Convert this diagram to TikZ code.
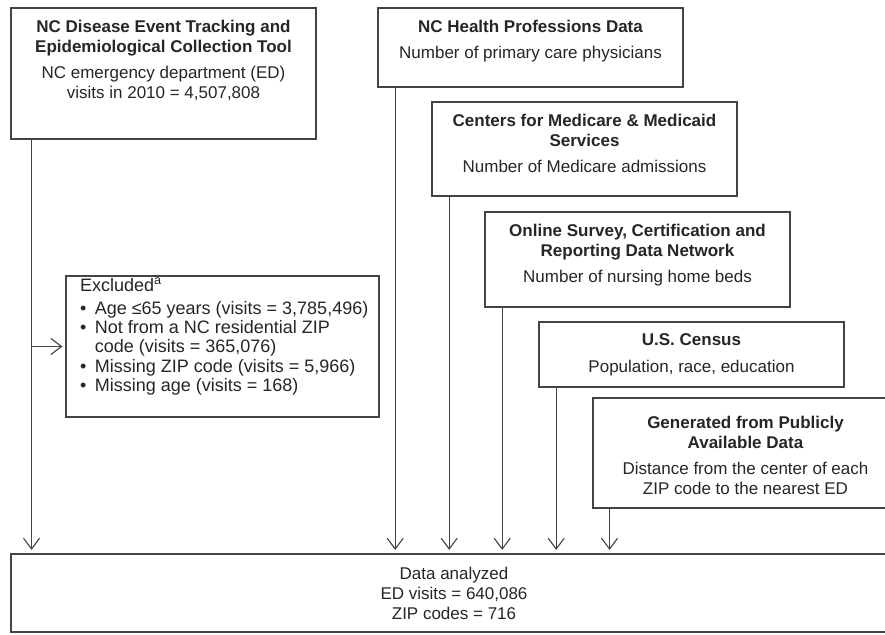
\documentclass[tikz,border=0pt]{standalone}
\usepackage{fontspec}
\setmainfont{Liberation Sans}
\usetikzlibrary{arrows.meta,fit}
\definecolor{ink}{HTML}{262626}
\definecolor{edge}{HTML}{444444}
\begin{document}
\begin{tikzpicture}[x=0.75pt,y=-0.75pt,
  box/.style={draw=edge,line width=1.2pt,inner sep=0pt,fill=none},
  txt/.style={inner sep=0pt,text=ink,font=\fontsize{12.75}{15}\selectfont,align=center},
  arr/.style={draw=edge,line width=0.85pt,-{Straight Barb[length=8pt,width=12pt,line width=0.85pt]},shorten >=2.5pt}]
\useasboundingbox (0,0) rectangle (885,635);
\fill[white] (0,0) rectangle (885,635);

% source boxes
\node[box,fit={(11,8)(316,139)}] (src1) {};
\node[txt,anchor=north] (t1) at ([yshift=-9.75pt]src1.north)
  {\textbf{NC Disease Event Tracking and}\\\textbf{Epidemiological Collection Tool}\\[4.5pt]NC emergency department (ED)\\visits in 2010 = 4,507,808};

\node[box,fit={(378,8)(683,87)}] (src2) {};
\node[txt,anchor=north] (t2) at ([yshift=-9.75pt]src2.north)
  {\textbf{NC Health Professions Data}\\[4.5pt]Number of primary care physicians};

\node[box,fit={(432,102)(737,196)}] (src3) {};
\node[txt,anchor=north] (t3) at ([yshift=-9.5pt]src3.north)
  {\textbf{Centers for Medicare \& Medicaid}\\\textbf{Services}\\[4.5pt]Number of Medicare admissions};

\node[box,fit={(485,212)(790,307)}] (src4) {};
\node[txt,anchor=north] (t4) at ([yshift=-9.5pt]src4.north)
  {\textbf{Online Survey, Certification and}\\\textbf{Reporting Data Network}\\[4.5pt]Number of nursing home beds};

\node[box,fit={(539,322)(844,387)}] (src5) {};
\node[txt,anchor=north] (t5) at ([yshift=-9pt]src5.north)
  {\textbf{U.S. Census}\\[5pt]Population, race, education};

\node[box,fit={(593,398)(898,508)}] (src6) {};
\node[txt,anchor=north] (t6) at ([yshift=-14pt]src6.north)
  {\textbf{Generated from Publicly}\\\textbf{Available Data}\\[4.5pt]Distance from the center of each\\ZIP code to the nearest ED};

% exclusion box
\node[box,fit={(66,276)(379,417)}] (exc) {};
\node[txt,align=left,anchor=north west,font=\fontsize{13.5}{14.6}\selectfont] (te) at ([xshift=11pt,yshift=-1.5pt]exc.north west)
  {Excluded\textsuperscript{a}\\[2.5pt]
   \makebox[11pt][l]{\textbullet}Age ≤65 years (visits = 3,785,496)\\
   \makebox[11pt][l]{\textbullet}Not from a NC residential ZIP\\
   \hspace*{11pt}code (visits = 365,076)\\
   \makebox[11pt][l]{\textbullet}Missing ZIP code (visits = 5,966)\\
   \makebox[11pt][l]{\textbullet}Missing age (visits = 168)};

% output box
\node[box,fit={(11,554)(897,632)}] (out) {};
\node[txt] (to) at (out.center) {Data analyzed\\ED visits = 640,086\\ZIP codes = 716};

% connectors
\coordinate (a1) at ([xshift=16pt]src1.south west);
\coordinate (a2) at ([xshift=13.5pt]src2.south west);
\coordinate (a3) at ([xshift=13.5pt]src3.south west);
\coordinate (a4) at ([xshift=13.5pt]src4.south west);
\coordinate (a5) at ([xshift=13.5pt]src5.south west);
\coordinate (a6) at ([xshift=13pt]src6.south west);
\draw[arr] (a1) -- (a1 |- out.north);
\draw[arr] (a2) -- (a2 |- out.north);
\draw[arr] (a3) -- (a3 |- out.north);
\draw[arr] (a4) -- (a4 |- out.north);
\draw[arr] (a5) -- (a5 |- out.north);
\draw[arr] (a6) -- (a6 |- out.north);
\draw[arr,shorten >=2pt] (exc.west -| a1) -- (exc.west);
\end{tikzpicture}
\end{document}
